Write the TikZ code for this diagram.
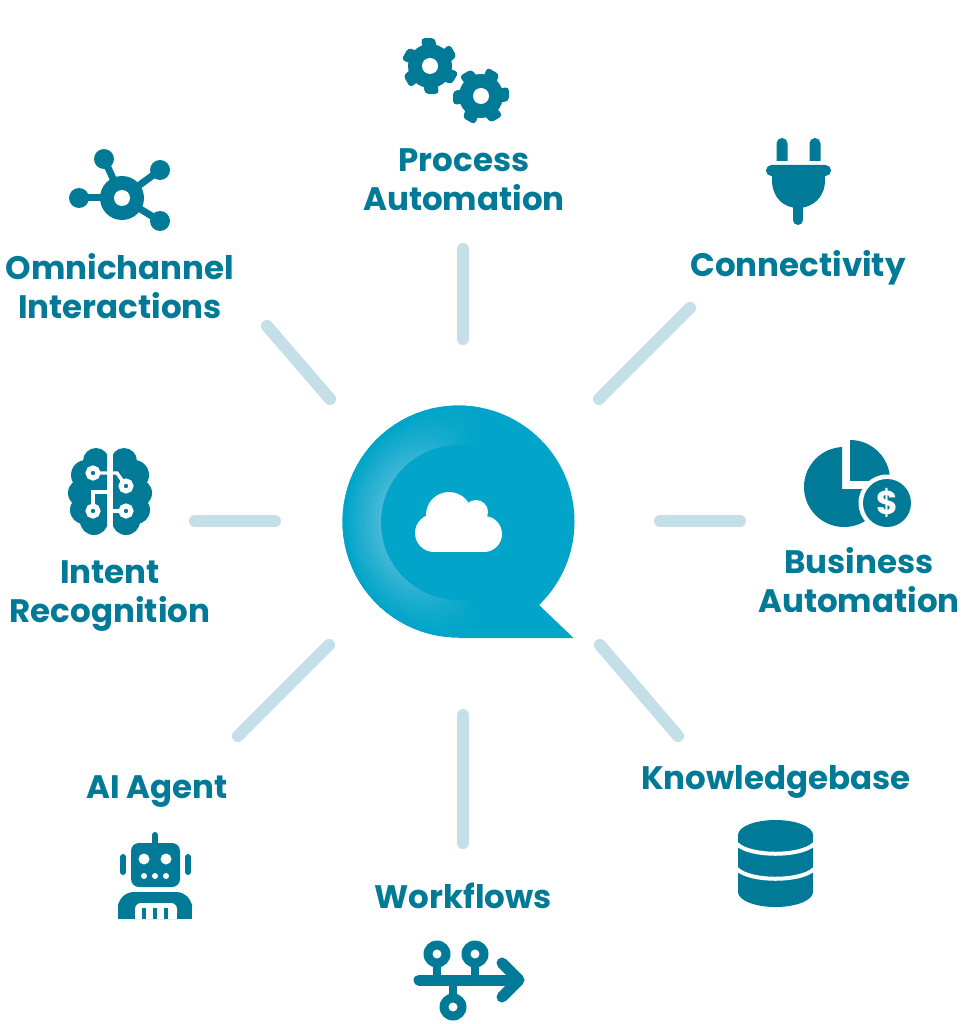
\documentclass[tikz,border=0pt]{standalone}
\usepackage{fontspec}
\setmainfont{Poppins}
\usetikzlibrary{positioning}
\definecolor{qbase}{RGB}{2,165,201}
\definecolor{qglow}{RGB}{75,187,216}
\definecolor{iconteal}{RGB}{0,122,150}
\definecolor{spokeblue}{RGB}{196,223,231}

\begin{document}
\begin{tikzpicture}[
    x=1pt, y=-1pt,
    lbl/.style={text=iconteal, font=\fontsize{32.5}{39}\selectfont\bfseries, align=center, inner sep=0pt},
    spoke/.style={spokeblue, line width=12pt, line cap=round},
    wire/.style={iconteal, line width=#1, line cap=round}
    ]
\useasboundingbox (0,0) rectangle (979,1024);
\fill[white] (0,0) rectangle (979,1024);

% centre bubble
\fill[qbase] (458.5,521.5) circle (116);
\fill[qbase] (458,638) -- (573.5,638) -- (539,605) -- cycle;
\begin{scope}[shift={(458.5,521.5)}]
\clip (0,0) circle (116);
\foreach \a in {80,84,...,276} {
  \foreach \r in {116,112,...,80} {
    \pgfmathtruncatemacro{\pct}{100*(116-\r)/38*max(0,1-((\a+2-180)/100)^2)}
    \fill[qglow!\pct!qbase] (\a:\r) -- ({\a+5}:\r) -- ({\a+5}:\r-5) -- (\a:\r-5) -- cycle;
  }
}
\end{scope}
\fill[qbase] (458.5,522.5) circle (77.5);
% cloud
\fill[white] (434,533) circle (19);
\fill[white] (484,534) circle (18);
\fill[white] (449,515) circle (23);
\fill[white] (476,512) circle (12);
\fill[white] (434,525) rectangle (484,552);

% spokes
\coordinate (procA) at (463,249);   \coordinate (procB) at (463,339);
\coordinate (connA) at (690,308);   \coordinate (connB) at (599,399);
\coordinate (busiA) at (660,521);   \coordinate (busiB) at (740,521);
\coordinate (knowA) at (600,645);   \coordinate (knowB) at (678,736);
\coordinate (workA) at (463,715);   \coordinate (workB) at (463,843);
\coordinate (agentA) at (329,645);  \coordinate (agentB) at (238,736);
\coordinate (intA) at (195,521);    \coordinate (intB) at (275,521);
\coordinate (omniA) at (267,326);   \coordinate (omniB) at (330,399);
\draw[spoke] (procA) -- (procB);
\draw[spoke] (connA) -- (connB);
\draw[spoke] (busiA) -- (busiB);
\draw[spoke] (knowA) -- (knowB);
\draw[spoke] (workA) -- (workB);
\draw[spoke] (agentA) -- (agentB);
\draw[spoke] (intA) -- (intB);
\draw[spoke] (omniA) -- (omniB);

% labels
\node[lbl] (proc) at (464,180) {Process\\Automation};
\node[lbl] (conn) at (798,268) {Connectivity};
\node[lbl] (busi) at (859,580) {Business\\Automation};
\node[lbl] (know) at (776,782) {Knowledgebase};
\node[lbl] (work) at (463,896) {Workflows};
\node[lbl] (agent) at (157,792) {AI Agent};
\node[lbl] (intent) at (110,596) {Intent\\Recognition};
\node[lbl] (omni) at (120,286) {Omnichannel\\Interactions};

% gears
\foreach \cx/\cy/\off in {430/66/30, 481/96/0} {
  \fill[iconteal] (\cx,\cy) circle (22);
  \foreach \a in {0,60,...,300} {
    \fill[iconteal, rounded corners=3.5] (\cx,\cy) ++({\a+\off-23}:19) -- ++({\a+\off-8}:10.5) -- ++({\a+\off+90}:14) -- ++({\a+\off+172}:10.5) -- cycle;
  }
  \fill[white] (\cx,\cy) circle (8);
}

% hub
\fill[iconteal] (122,198) circle (22);
\foreach \sx/\sy in {104/159, 160/170, 79/198, 160/221} {
  \fill[iconteal] (\sx,\sy) circle (10);
  \draw[wire=7pt] (122,198) -- (\sx,\sy);
}
\fill[white] (122,198) circle (8);

% plug
\foreach \px in {782,815} {
  \fill[iconteal] (\px-5.5,161) [rounded corners=5.4] -- (\px-5.5,138) -- (\px+5.5,138) [sharp corners] -- (\px+5.5,161) -- cycle;
}
\fill[iconteal, rounded corners=5.4] (766,165) rectangle (831,176);
\fill[iconteal] (772,172) -- (772,180) .. controls (772,198) and (784,208) .. (798,208)
  .. controls (812,208) and (825,198) .. (825,180) -- (825,172) -- cycle;
\draw[wire=10pt] (798,205) -- (798,220);

% pie and coin
\begin{scope}
\clip (842,440) -- (842,489) -- (895,489) -- (895,530) -- (800,530) -- (800,440) -- cycle;
\fill[iconteal] (844,487) circle (40);
\end{scope}
\begin{scope}
\clip (850,435) rectangle (895,480);
\fill[iconteal] (850,480) circle (40);
\end{scope}
\fill[white] (887,503) circle (28.5);
\fill[iconteal] (887,503) circle (24);
\node[text=white, font=\fontsize{33}{33}\selectfont\bfseries, inner sep=0pt] (coin) at (887,503) {\$};

% brain
\foreach \s in {-1,1} {
  \begin{scope}
  \clip (110+\s*3,440) rectangle (110+\s*50,540);
  \foreach \dx/\ly/\lr in {14/461/13, 24/475/15, 28/493/14, 26/510/14, 16/521/14} {
    \fill[iconteal] (110+\s*\dx,\ly) circle (\lr);
  }
  \fill[iconteal] (110+\s*3,458) rectangle (110+\s*25,525);
  \end{scope}
}
\draw[white, line width=3.4pt] (93,473) -- (117,473) -- (126,486);
\draw[white, line width=3.4pt] (93,511) -- (93,492) -- (110,492);
\draw[white, line width=3.4pt] (126,511) -- (110,511);
\foreach \bx/\by in {93/473, 126/486, 93/511, 126/511} {
  \draw[white, line width=5pt, fill=iconteal] (\bx,\by) circle (5);
}

% robot
\draw[wire=6pt] (155,835) -- (155,846);
\fill[iconteal, rounded corners=8] (131,843) rectangle (180,887);
\draw[wire=6pt] (123,857) -- (123,872);
\draw[wire=6pt] (188,857) -- (188,872);
\foreach \ex in {144,166} {
  \fill[white] (\ex,859) circle (5.5);
}
\foreach \ex in {144,155,166} {
  \fill[white] (\ex,876) circle (3);
}
\fill[iconteal, rounded corners=16] (118,919) -- (118,892) -- (192,892) -- (192,919) -- cycle;
\fill[iconteal] (118,905) rectangle (192,919);
\fill[white, rounded corners=6] (135,919) -- (135,903) -- (177,903) -- (177,919) -- cycle;
\fill[white] (135,912) rectangle (177,919);
\foreach \ex in {144,155,166} {
  \fill[iconteal] (\ex-2,908) rectangle (\ex+2,919);
}

% workflow arrow
\draw[wire=11pt] (419,980) -- (516,980);
\draw[wire=11pt, line join=round] (502,963) -- (519,980) -- (502,997);
\foreach \wx/\wy in {437/954, 475/954, 453/1007} {
  \draw[iconteal, line width=8pt] (\wx,\wy) -- (\wx,980);
  \fill[iconteal] (\wx,\wy) circle (13.5);
  \fill[white] (\wx,\wy) circle (4.5);
}

% database
\fill[iconteal] (775.5,835) ellipse (37.5 and 15);
\fill[iconteal] (738,835) rectangle (813,892);
\fill[iconteal] (775.5,892) ellipse (37.5 and 15);
\draw[white, line width=4pt] (737,844) .. controls (750,857) and (801,857) .. (814,844);
\draw[white, line width=4pt] (737,869) .. controls (750,882) and (801,882) .. (814,869);
\end{tikzpicture}
\end{document}
